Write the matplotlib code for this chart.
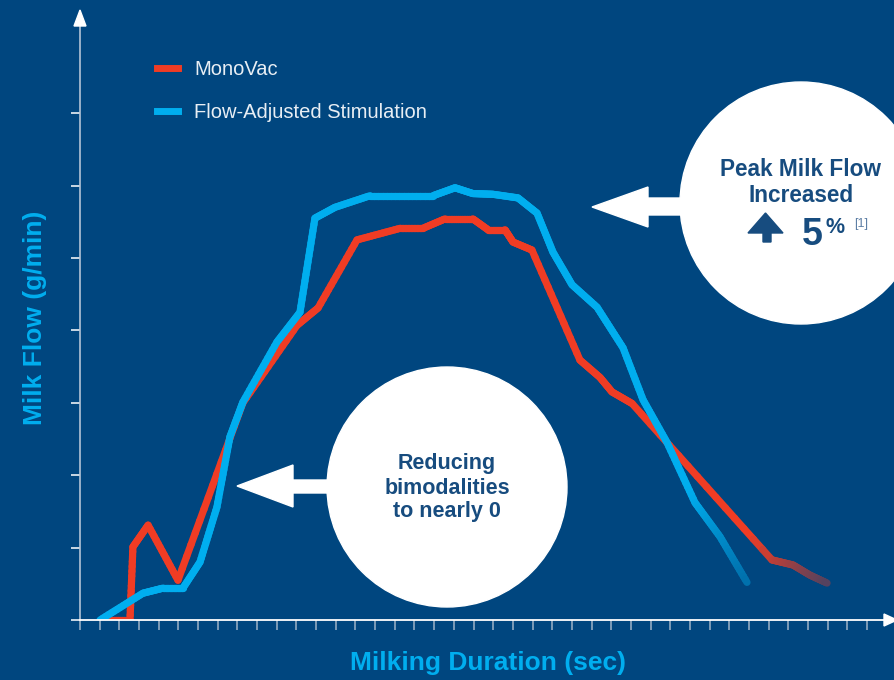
import numpy as np
import matplotlib
matplotlib.use("Agg")
import matplotlib.pyplot as plt
from matplotlib.collections import LineCollection
from matplotlib.lines import Line2D
from matplotlib.patches import Circle, Polygon
from matplotlib.colors import to_rgb

# x in tick steps (41 ticks, 0..40), y in tick steps (0..7); the chart has no tick labels
mono_x = [1.02, 2.54, 2.69, 3.46, 4.98, 8.28, 11.03, 12.10, 14.08, 16.27, 17.43,
          18.55, 19.97, 20.74, 21.60, 22.01, 22.97, 25.41, 26.43, 27.04, 28.06,
          35.17, 36.24, 37.10, 37.97]
mono_y = [0.00, 0.00, 1.01, 1.31, 0.55, 3.00, 4.07, 4.31, 5.25, 5.41, 5.41,
          5.54, 5.54, 5.39, 5.39, 5.22, 5.11, 3.59, 3.35, 3.15, 2.99,
          0.83, 0.76, 0.62, 0.51]

flow_x = [1.02, 3.20, 4.22, 5.23, 6.10, 6.96, 7.62, 8.28, 10.01, 11.18, 11.94,
          12.96, 14.74, 17.94, 19.06, 19.97, 20.99, 22.26, 23.23, 24.04, 25.01,
          26.28, 27.60, 28.62, 29.84, 31.26, 32.53, 33.90]
flow_y = [0.00, 0.37, 0.44, 0.44, 0.80, 1.56, 2.53, 3.01, 3.84, 4.25, 5.55,
          5.70, 5.86, 5.86, 5.97, 5.89, 5.88, 5.83, 5.62, 5.08, 4.63,
          4.32, 3.76, 3.04, 2.45, 1.62, 1.15, 0.52]

bg = "#00467f"
red = "#f03c24"
blue = "#00aeef"
navy = "#174c7f"

W, H = 894, 680
fig = plt.figure(figsize=(W / 100, H / 100), dpi=100, facecolor=bg)

ax = fig.add_axes([80 / W, 60 / H, 814 / W, 608 / H])
ax.set_facecolor(bg)
ax.set_xlim(0, 814 / 19.675)
ax.set_ylim(0, 608 / 72.4)
for s in ["top", "right"]:
    ax.spines[s].set_visible(False)
ax.spines["left"].set_color("#b4c4d6")
ax.spines["left"].set_linewidth(1.2)
ax.spines["bottom"].set_color("white")
ax.spines["bottom"].set_linewidth(1.3)
ax.set_xticks(np.arange(0, 41))
ax.set_yticks(np.arange(0, 8))
ax.set_xticklabels([])
ax.set_yticklabels([])
ax.tick_params(axis="x", length=7, width=1.1, color="#9fb3c8", direction="out")
ax.tick_params(axis="y", length=6.5, width=1.1, color="white", direction="out")


def fading(xs, ys, color, fade_start, fade_amt):
    # straight segments split finely only so the colour can fade toward the end
    c0 = np.array(to_rgb(color))
    cb = np.array(to_rgb(bg))
    segs, cols = [], []
    x_end = xs[-1]
    for i in range(len(xs) - 1):
        t = np.linspace(0, 1, 16)
        sx = xs[i] + (xs[i + 1] - xs[i]) * t
        sy = ys[i] + (ys[i + 1] - ys[i]) * t
        for j in range(len(t) - 1):
            segs.append([(sx[j], sy[j]), (sx[j + 1], sy[j + 1])])
            xm = (sx[j] + sx[j + 1]) / 2
            f = np.clip((xm - fade_start) / (x_end - fade_start), 0, 1) * fade_amt
            cols.append(c0 * (1 - f) + cb * f)
    return LineCollection(segs, colors=cols, linewidths=5.2,
                          capstyle="round", joinstyle="round")


ax.add_collection(fading(mono_x, mono_y, red, 34.0, 0.65))
ax.add_collection(fading(flow_x, flow_y, blue, 31.0, 0.6))

handles = [Line2D([], [], color=red, lw=5), Line2D([], [], color=blue, lw=5)]
leg = fig.legend(handles, ["MonoVac", "Flow-Adjusted Stimulation"],
                 loc="upper left", bbox_to_anchor=(157 / W, 1 - 60 / H),
                 frameon=False, fontsize=14.5, handlelength=1.05,
                 handletextpad=0.8, labelspacing=1.2, borderpad=0,
                 borderaxespad=0)
for t in leg.get_texts():
    t.set_color("#e8eef4")
    t.set_family("Liberation Sans")

# overlay in pixel coordinates for arrows and callouts
ov = fig.add_axes([0, 0, 1, 1], facecolor="none")
ov.set_xlim(0, W)
ov.set_ylim(H, 0)
ov.axis("off")

# axis arrowheads
ov.add_patch(Polygon([(80, 10), (74, 26), (86, 26)], color="white"))
ov.add_patch(Polygon([(897, 620), (884, 614), (884, 626)], color="white"))

# callout circles and arrows
ov.add_patch(Circle((447, 487), 120, color="white"))
ov.add_patch(Polygon([(237, 486), (293, 465), (293, 480), (335, 480),
                      (335, 493), (293, 493), (293, 507)], color="white"))
ov.add_patch(Circle((801, 203), 121, color="white"))
ov.add_patch(Polygon([(592, 207), (648, 187), (648, 198), (690, 198),
                      (690, 215), (648, 215), (648, 227)], color="white"))

tk = dict(ha="center", va="center", color=navy, fontsize=15.5,
          fontweight="bold", family="Liberation Sans")
ov.text(447, 463, "Reducing", **tk)
ov.text(447, 488, "bimodalities", **tk)
ov.text(447, 512, "to nearly 0", **tk)
tk["fontsize"] = 16.3
ov.text(801, 170, "Peak Milk Flow", **tk)
ov.text(801, 195, "Increased", **tk)

ov.add_patch(Polygon([(765.5, 213), (783, 233), (771, 233), (771, 242),
                      (763, 242), (763, 233), (748, 233)], color=navy))
ov.text(812.5, 245, "5", ha="center", va="baseline", color=navy, fontsize=27,
        fontweight="bold", family="Liberation Sans")
ov.text(825, 233, "%", ha="left", va="baseline", color=navy, fontsize=15.5,
        fontweight="bold", family="Liberation Sans")
ov.text(854, 227, "[1]", ha="left", va="baseline", color="#5d7fa5",
        fontsize=9, family="Liberation Sans")

lab = dict(color=blue, fontsize=19, fontweight="bold", family="Liberation Sans")
ov.text(488, 663, "Milking Duration (sec)", ha="center", va="center", **lab)
ov.text(35, 318, "Milk Flow (g/min)", ha="center", va="center",
        rotation=90, **lab)

fig.savefig("out.png", dpi=100, facecolor=bg)
